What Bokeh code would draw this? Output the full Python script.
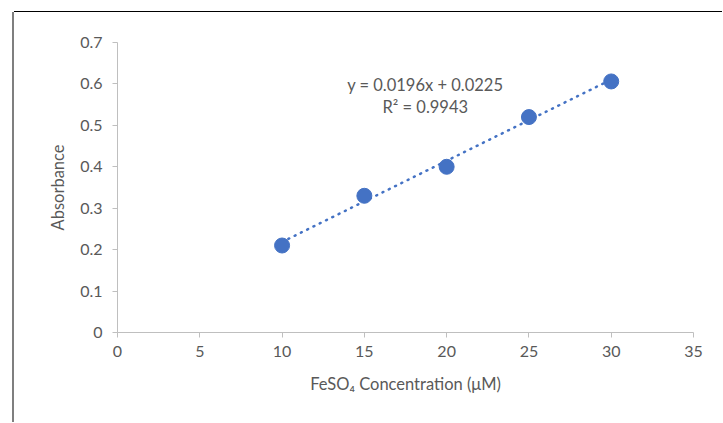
import numpy as np
from bokeh.plotting import figure
from bokeh.models import Label, FixedTicker
from bokeh.embed import file_html
from bokeh.resources import INLINE

# data
concentration = [10, 15, 20, 25, 30]
absorbance = [0.21, 0.33, 0.40, 0.52, 0.606]
slope = 0.0196
intercept = 0.0225
eq_text = "y = 0.0196x + 0.0225"
r2_text = "R² = 0.9943"
x_ticks = [0, 5, 10, 15, 20, 25, 30, 35]
y_ticks = [0, 0.1, 0.2, 0.3, 0.4, 0.5, 0.6, 0.7]

FONT = "Lato"
BLUE = "#4472C4"
GREY = "#595959"

p = figure(width=708, height=410, x_range=(0, 35), y_range=(0, 0.7),
           output_backend="svg", toolbar_location=None,
           min_border_left=103, min_border_right=29, min_border_top=30, min_border_bottom=90)
p.styles = {"position": "absolute", "left": "14px", "top": "12px",
            "box-shadow": "0 -1px 0 0 #000000, -2px 0 0 0 #7f7f7f"}
p.outline_line_color = None
p.grid.visible = False

# trendline
tx = np.array([min(concentration), max(concentration)])
p.line(tx, slope * tx + intercept, line_color=BLUE, line_width=2.5,
       line_dash="1 6", line_cap="round")
p.scatter(concentration, absorbance, size=15, fill_color=BLUE, line_color=BLUE)

for ax in (p.xaxis, p.yaxis):
    ax.axis_line_color = "#bfbfbf"
    ax.major_tick_line_color = "#bfbfbf"
    ax.minor_tick_line_color = None
    ax.major_tick_in = 0
    ax.major_tick_out = 5
    ax.major_label_text_font = FONT
    ax.major_label_text_font_size = "16px"
    ax.major_label_text_color = GREY
    ax.axis_label_text_font = FONT
    ax.axis_label_text_font_size = "16.5px"
    ax.axis_label_text_color = GREY
    ax.axis_label_text_font_style = "normal"

p.xaxis.ticker = FixedTicker(ticks=x_ticks)
p.yaxis.ticker = FixedTicker(ticks=y_ticks)
p.yaxis.major_label_overrides = {0: "0"}
p.xaxis.major_label_standoff = 8
p.yaxis.major_label_standoff = 10
p.xaxis.axis_label = "FeSO₄ Concentration (μM)"
p.yaxis.axis_label = "Absorbance"
p.xaxis.axis_label_standoff = 14
p.yaxis.axis_label_standoff = 9

p.add_layout(Label(x=18.7, y=0.597, text=eq_text, text_align="center", text_baseline="middle",
                   text_font=FONT, text_font_size="16.5px", text_color=GREY))
p.add_layout(Label(x=18.7, y=0.544, text=r2_text, text_align="center", text_baseline="middle",
                   text_font=FONT, text_font_size="16.5px", text_color=GREY))

open("out.html", "w").write(file_html(p, INLINE))
